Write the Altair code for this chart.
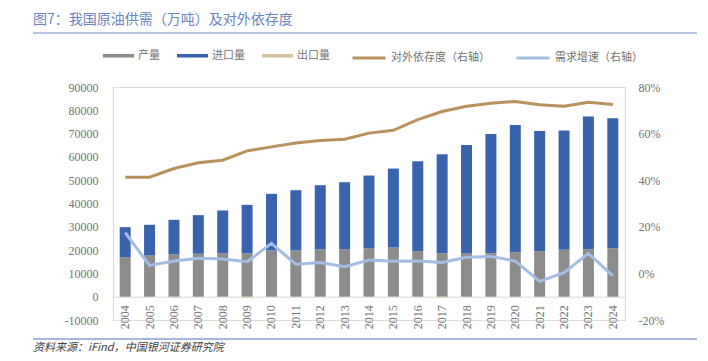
import altair as alt
import pandas as pd

years = [str(y) for y in range(2004, 2025)]
production = [17000, 17700, 18140, 18430, 18710, 18570, 19860, 19860, 20290, 20430, 20710,
              21140, 19570, 18710, 18570, 18710, 19140, 19570, 20140, 20430, 20860]
imports = [12860, 13160, 14860, 16570, 18290, 20860, 24280, 25850, 27570, 28710, 31290,
           33860, 38570, 42430, 46570, 51150, 54570, 51570, 51150, 56860, 55710]
exports = [0, 0, -350, 0, 0, -350, 0, 0, 0, 0, 0,
           0, 0, -350, 0, 0, 0, 0, 0, 0, 0]
dependency = [0.413, 0.413, 0.450, 0.475, 0.486, 0.526, 0.543, 0.560, 0.570, 0.576, 0.602,
              0.614, 0.660, 0.695, 0.717, 0.730, 0.738, 0.724, 0.717, 0.734, 0.725]
growth = [0.175, 0.034, 0.053, 0.065, 0.062, 0.050, 0.129, 0.039, 0.047, 0.029, 0.057,
          0.052, 0.053, 0.047, 0.069, 0.073, 0.053, -0.034, 0.003, 0.086, -0.011]

bar_names = ["产量", "进口量", "出口量"]
bar_colors = ["#8c8c8c", "#3a63ad", "#d6c2a0"]
line_names = ["对外依存度（右轴）", "需求增速（右轴）"]
line_colors = ["#b8915c", "#a5bce4"]

title_text = "图7：我国原油供需（万吨）及对外依存度"
source_text = "资料来源：iFind，中国银河证券研究院"

rows = []
for i, y in enumerate(years):
    for k, (name, vals) in enumerate(zip(bar_names, [production, imports, exports])):
        rows.append({"year": y, "series": name, "value": vals[i], "ord": k})
bars_df = pd.DataFrame(rows)

lrows = []
for i, y in enumerate(years):
    for name, vals in zip(line_names, [dependency, growth]):
        lrows.append({"year": y, "series": name, "value": vals[i]})
lines_df = pd.DataFrame(lrows)

CJK = "Noto Sans CJK SC"
SERIF = "Liberation Serif"
LABEL = "#737373"
AXISLINE = "#d9d9d9"
H = 233

x_enc = alt.X("year:N", title=None,
              scale=alt.Scale(paddingInner=0.55, paddingOuter=0.275),
              axis=alt.Axis(labelAngle=270, offset=-H / 10, ticks=False,
                            domainColor=AXISLINE, labelFont=SERIF, labelFontSize=12,
                            labelColor=LABEL, labelPadding=8))

bars = alt.Chart(bars_df).mark_bar(size=11).encode(
    x=x_enc,
    y=alt.Y("value:Q", title=None, stack="zero",
            scale=alt.Scale(domain=[-10000, 90000], nice=False, zero=False),
            axis=alt.Axis(values=list(range(-10000, 90001, 10000)),
                          labelExpr="datum.value < 0 ? '-' + format(-datum.value, 'd') : format(datum.value, 'd')",
                          ticks=False, domainColor=AXISLINE, grid=False,
                          labelFont=SERIF, labelFontSize=12, labelColor=LABEL,
                          labelPadding=15)),
    fill=alt.Fill("series:N", title=None,
                  scale=alt.Scale(domain=bar_names, range=bar_colors),
                  legend=alt.Legend(orient="none", legendX=-10, legendY=-47,
                                    direction="horizontal", columns=3,
                                    symbolType="M-1,-0.115L1,-0.115L1,0.115L-1,0.115Z",
                                    symbolSize=961, symbolStrokeWidth=0,
                                    labelFont=CJK, labelFontSize=11, labelColor=LABEL,
                                    labelOffset=4, columnPadding=17, padding=0)),
    order=alt.Order("ord:Q"),
)

lines = alt.Chart(lines_df).mark_line(strokeWidth=3).encode(
    x=alt.X("year:N"),
    y=alt.Y("value:Q", title=None,
            scale=alt.Scale(domain=[-0.2, 0.8], nice=False, zero=False),
            axis=alt.Axis(orient="right", values=[-0.2, 0, 0.2, 0.4, 0.6, 0.8],
                          labelExpr="datum.value < 0 ? '-' + format(-datum.value, '.0%') : format(datum.value, '.0%')",
                          ticks=False, domainColor=AXISLINE, grid=False,
                          labelFont=SERIF, labelFontSize=12, labelColor=LABEL,
                          labelPadding=13)),
    stroke=alt.Stroke("series:N", title=None,
                      scale=alt.Scale(domain=line_names, range=line_colors),
                      legend=alt.Legend(orient="none", legendX=238, legendY=-47,
                                        direction="horizontal", columns=2,
                                        symbolType="stroke", symbolSize=1089,
                                        symbolStrokeWidth=3,
                                        labelFont=CJK, labelFontSize=11, labelColor=LABEL,
                                        labelOffset=4, columnPadding=20, padding=0)),
)

one = alt.Data(values=[{"a": 1}])
title_mark = alt.Chart(one).mark_text(
    text=title_text, align="left", baseline="middle", font=CJK, fontSize=14,
    color="#6a84c0"
).encode(x=alt.value(-80), y=alt.value(-67))
title_rule = alt.Chart(one).mark_rule(color="#6f8bc6", strokeWidth=1.2).encode(
    x=alt.value(-80), x2=alt.value(584), y=alt.value(-54))
source_rule = alt.Chart(one).mark_rule(color="#4f72b8", strokeWidth=1.2).encode(
    x=alt.value(-80), x2=alt.value(584), y=alt.value(252))
source_mark = alt.Chart(one).mark_text(
    text=source_text, align="left", baseline="middle", font=CJK, fontSize=11,
    fontStyle="italic", color="#404040"
).encode(x=alt.value(-80), y=alt.value(261))

chart = alt.layer(bars, lines, title_mark, title_rule, source_rule, source_mark).resolve_scale(
    y="independent"
).properties(
    width=512, height=H,
    autosize=alt.AutoSizeParams(type="none"),
    padding={"left": 105, "top": 79, "right": 75, "bottom": 33},
).configure_view(stroke=None).configure(background="white")

chart.save("out.html", embed_options={"renderer": "svg", "actions": False})
